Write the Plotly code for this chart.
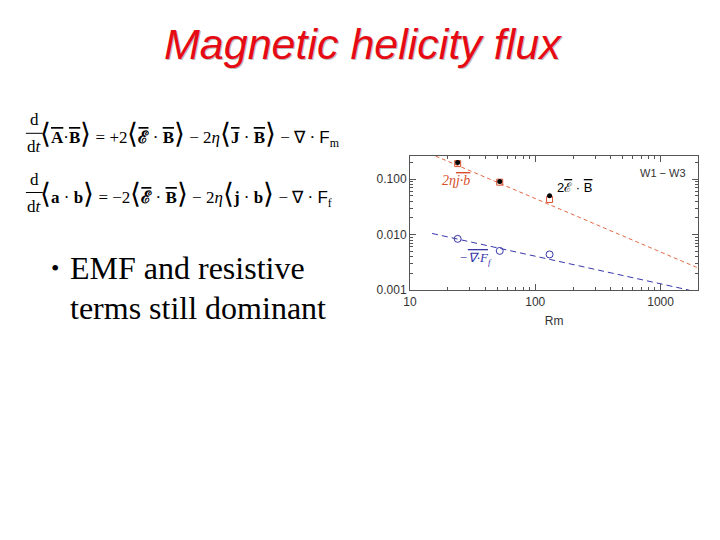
import plotly.graph_objects as go

# the page body has an 8px margin, so the figure is drawn 8px in from the corner
OFF = 8
W, H = 704, 524
LPAD = 8  # left-anchored annotations land a few px right of their anchor

# data
rm = [24, 52, 130]
emf_term = [0.200, 0.091, 0.050]        # 2 E.B, filled black dots
resistive_term = [0.19, 0.088, 0.043]   # 2 eta j.b, open red squares
flux_term = [0.0084, 0.0051, 0.0044]    # -div F_f, open blue circles

fit_red_rm = [16, 2000]
fit_red_val = [0.26, 0.0025]
fit_blue_rm = [15, 1700]
fit_blue_val = [0.0105, 0.001]

x_ticks = [10, 100, 1000]
x_ticklabels = ["10", "100", "1000"]
y_ticks = [0.001, 0.01, 0.1]
y_ticklabels = ["0.001", "0.010", "0.100"]

RED = "rgb(215,80,45)"
RED_LINE = "rgb(225,105,70)"
BLUE = "rgb(55,55,170)"
SERIF = "Liberation Serif"
SANS = "Liberation Sans"


def px(x):
    return (x - OFF) / W


def py(y):
    return 1 - (y - OFF) / H


def ov(s):
    return "<span style='text-decoration:overline'>" + s + "</span>"


def big(s, size=28):
    return "<span style='font-size:%dpx'>%s</span>" % (size, s)


minor_x = [m * 10 ** k for k in (1, 2, 3) for m in range(2, 10)]
minor_y = [m * 10 ** k for k in (-3, -2, -1) for m in range(2, 10)]

fig = go.Figure()

fig.add_trace(go.Scatter(x=fit_red_rm, y=fit_red_val, mode="lines",
                         line=dict(color=RED_LINE, width=1, dash="4px,3px")))
fig.add_trace(go.Scatter(x=fit_blue_rm, y=fit_blue_val, mode="lines",
                         line=dict(color=BLUE, width=1, dash="6px,4px")))
fig.add_trace(go.Scatter(x=rm, y=resistive_term, mode="markers",
                         marker=dict(symbol="square-open", size=6, color=RED, line=dict(width=1))))
fig.add_trace(go.Scatter(x=rm, y=emf_term, mode="markers",
                         marker=dict(symbol="circle", size=5, color="black")))
fig.add_trace(go.Scatter(x=rm, y=flux_term, mode="markers",
                         marker=dict(symbol="circle-open", size=7, color=BLUE, line=dict(width=1))))

axis_common = dict(
    type="log", showgrid=False, zeroline=False,
    showline=True, linecolor="#555", linewidth=1, mirror="allticks",
    ticks="inside", ticklen=6, tickcolor="#555",
    tickfont=dict(family=SANS, size=12, color="#333"),
)

fig.update_xaxes(
    **axis_common, domain=[px(407), px(698)], range=[1, 3.30],
    tickmode="array", tickvals=x_ticks, ticktext=x_ticklabels,
    minor=dict(ticks="inside", ticklen=3, tickcolor="#555", tickmode="array", tickvals=minor_x),
    title=dict(text="Rm", font=dict(family=SANS, size=12, color="#333"), standoff=9),
)
fig.update_yaxes(
    **axis_common, domain=[py(294), py(158)], range=[-3, -0.584],
    tickmode="array", tickvals=y_ticks, ticktext=y_ticklabels,
    minor=dict(ticks="inside", ticklen=3, tickcolor="#555", tickmode="array", tickvals=minor_y),
)

ann = []


def note(x, y, text, size, color="black", family=SERIF, xanchor="center", yanchor="middle"):
    if xanchor == "left":
        x -= LPAD
    ann.append(dict(x=px(x), y=py(y), xref="paper", yref="paper", text=text, showarrow=False,
                    xanchor=xanchor, yanchor=yanchor,
                    font=dict(family=family, size=size, color=color)))


# title with grey drop shadow
title = "<i>Magnetic helicity flux</i>"
note(361, 46, title, 43, color="#bdbdbd", family=SANS)
note(359, 44, title, 43, color="rgb(230,10,20)", family=SANS)

# equations
eq1 = (big("⟨") + "<b>" + ov("A") + "</b>·<b>" + ov("B") + "</b>" + big("⟩")
       + " = +2" + big("⟨") + "<b>" + ov("ℰ") + "</b> · <b>" + ov("B") + "</b>" + big("⟩")
       + " − 2<i>η</i>" + big("⟨") + "<b>" + ov("J") + "</b> · <b>" + ov("B") + "</b>" + big("⟩")
       + " − ∇ · <span style='font-family:Liberation Sans'>F</span><sub>m</sub>")
eq2 = (big("⟨") + "<b>a</b> · <b>b</b>" + big("⟩")
       + " = −2" + big("⟨") + "<b>" + ov("ℰ") + "</b> · <b>" + ov("B") + "</b>" + big("⟩")
       + " − 2<i>η</i>" + big("⟨") + "<b>j</b> · <b>b</b>" + big("⟩")
       + " − ∇ · <span style='font-family:Liberation Sans'>F</span><sub>f</sub>")

for yc, dy, eq in [(136, 121, eq1), (197, 182, eq2)]:
    note(28, dy, "d", 17)
    note(28, dy + 27, "d<i>t</i>", 17)
    note(39, yc, eq, 17, xanchor="left")

# bullet text
note(50, 272, "•", 24, xanchor="left")
note(70, 272, "EMF and resistive", 32, xanchor="left")
note(70, 312, "terms still dominant", 32, xanchor="left")

# panel labels
note(663, 175, "W1 − W3", 11, color="#333", family=SANS)
note(453, 183, "<i>2η" + ov("j·b") + "</i>", 14, color=RED)
note(573, 190, "2" + ov("ℰ") + " · " + ov("B"), 13, color="black", family=SANS)
note(473, 262, "<i>−" + ov("∇·F") + "<sub>f</sub></i>", 13, color=BLUE)

shapes = [dict(type="line", xref="paper", yref="paper", x0=px(19), x1=px(36), y0=py(b), y1=py(b),
               line=dict(color="black", width=1)) for b in (135, 195)]

fig.update_layout(
    width=W, height=H, margin=dict(l=0, r=0, t=0, b=0),
    paper_bgcolor="white", plot_bgcolor="white", showlegend=False,
    annotations=ann, shapes=shapes,
)

fig.write_html("out.html")
